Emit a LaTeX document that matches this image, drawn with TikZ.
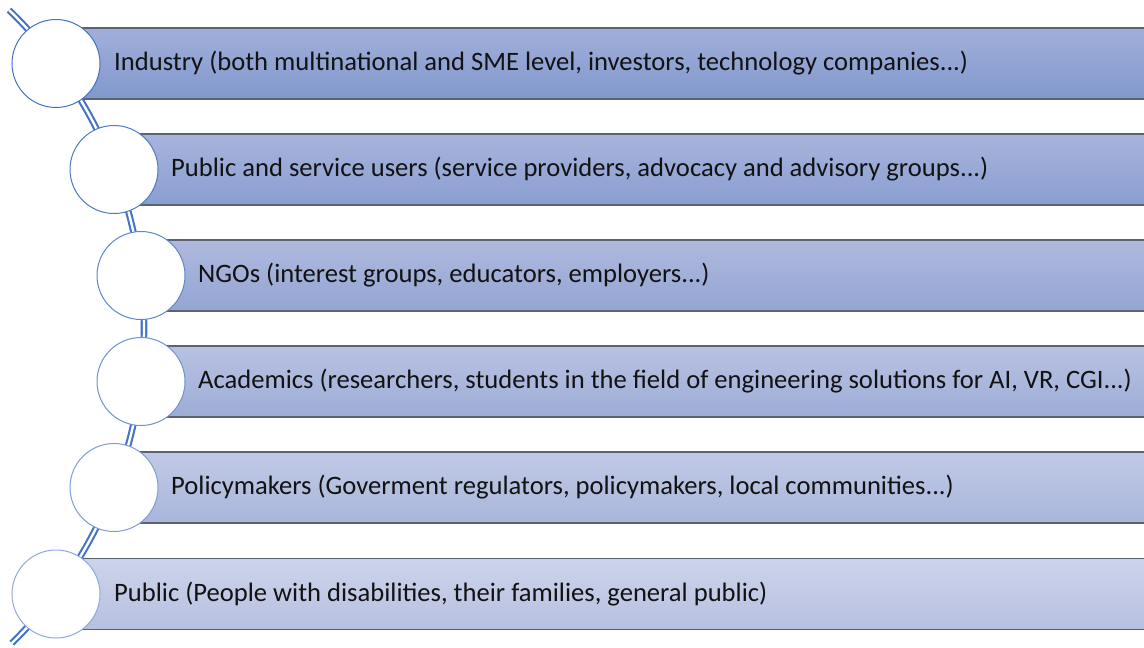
\documentclass[tikz,border=0pt]{standalone}
\usepackage{fontspec}
\setmainfont{Carlito}
\usetikzlibrary{calc}
\definecolor{arcblue}{HTML}{4472C4}
\definecolor{barline}{HTML}{5B6270}
\definecolor{barAt}{HTML}{A2AFDA}\definecolor{barAb}{HTML}{8198CD}
\definecolor{barBt}{HTML}{A8B4DC}\definecolor{barBb}{HTML}{899ED0}
\definecolor{barCt}{HTML}{AFB9DE}\definecolor{barCb}{HTML}{93A5D3}
\definecolor{barDt}{HTML}{B8C1E2}\definecolor{barDb}{HTML}{9EADD7}
\definecolor{barEt}{HTML}{C1C9E6}\definecolor{barEb}{HTML}{A9B6DA}
\definecolor{barFt}{HTML}{CDD3EB}\definecolor{barFb}{HTML}{B6C0E0}
\definecolor{ringA}{HTML}{4472C4}\definecolor{ringB}{HTML}{4F7AC8}
\definecolor{ringC}{HTML}{5E86CD}\definecolor{ringD}{HTML}{6E92D2}
\definecolor{ringE}{HTML}{7F9ED6}\definecolor{ringF}{HTML}{8FAADB}
\begin{document}
\begin{tikzpicture}[x=1pt,y=-1pt,
  bar/.style={draw=barline,line width=1.4pt,minimum height=71pt,inner sep=0pt,
    rectangle,anchor=west},
  disc/.style={circle,fill=white,line width=1pt,minimum size=88pt,inner sep=0pt},
  lbl/.style={anchor=west,inner sep=0pt,font=\fontsize{26.6}{30}\selectfont,text=black!93},
  link/.style={arcblue,line width=2.1pt,double=white,double distance=2.4pt}]
\useasboundingbox (0,0) rectangle (1144,648);
% bars, each starting under the centre of its disc
\node[bar,minimum width=1100pt,top color=barAt,bottom color=barAb] (b1) at (56,63.5) {};
\node[bar,minimum width=1040pt,top color=barBt,bottom color=barBb] (b2) at (114,169.5) {};
\node[bar,minimum width=1010pt,top color=barCt,bottom color=barCb] (b3) at (141,275.5) {};
\node[bar,minimum width=1010pt,top color=barDt,bottom color=barDb] (b4) at (141,381.5) {};
\node[bar,minimum width=1040pt,top color=barEt,bottom color=barEb] (b5) at (114,487.5) {};
\node[bar,minimum width=1100pt,top color=barFt,bottom color=barFb] (b6) at (56,594) {};
% the curved double line through all discs
\coordinate (arcstart) at ($(-298,328)+(-46:442)$);
\draw[link] (arcstart) arc[start angle=-46,end angle=45.5,radius=442];
% discs
\node[disc,draw=ringA] (c1) at (b1.west) {};
\node[disc,draw=ringB] (c2) at (b2.west) {};
\node[disc,draw=ringC] (c3) at (b3.west) {};
\node[disc,draw=ringD] (c4) at (b4.west) {};
\node[disc,draw=ringE] (c5) at (b5.west) {};
\node[disc,draw=ringF] (c6) at (b6.west) {};
% labels
\node[lbl] (t1) at ([xshift=58pt]b1.west) {Industry (both multinational and SME level, investors, technology companies...)};
\node[lbl] (t2) at ([xshift=57pt]b2.west) {Public and service users (service providers, advocacy and advisory groups...)};
\node[lbl] (t3) at ([xshift=57pt]b3.west) {NGOs (interest groups, educators, employers...)};
\node[lbl] (t4) at ([xshift=57pt]b4.west) {Academics (researchers, students in the field of engineering solutions for AI, VR, CGI...)};
\node[lbl] (t5) at ([xshift=57pt]b5.west) {Policymakers (Goverment regulators, policymakers, local communities...)};
\node[lbl] (t6) at ([xshift=58pt]b6.west) {Public (People with disabilities, their families, general public)};
\end{tikzpicture}
\end{document}
